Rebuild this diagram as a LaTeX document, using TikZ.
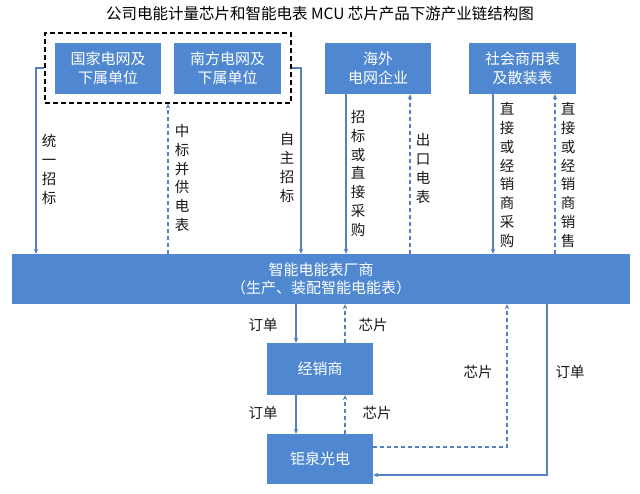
\documentclass[tikz,border=0pt]{standalone}
\usepackage{fontspec}
\setmainfont{Noto Sans CJK SC}
\usetikzlibrary{arrows.meta}
\definecolor{boxblue}{HTML}{4F88D0}
\definecolor{lineblue}{HTML}{5580C2}
\newcommand\myboxfont{\fontsize{15}{18.5}\selectfont}
\newcommand\mylabfont{\fontsize{14.5}{18.8}\selectfont}
\begin{document}
\begin{tikzpicture}[x=1pt,y=-1pt,
  box/.style={fill=boxblue, text=white, font=\myboxfont, align=center, inner sep=0pt},
  ln/.style={draw=lineblue, line width=1.2pt, -{Stealth[length=5pt,width=4.5pt]}},
  dl/.style={ln, dash pattern=on 4pt off 3pt},
  lab/.style={font=\mylabfont, align=center, inner sep=0pt, text=black!90}]
\useasboundingbox[fill=white] (0,0) rectangle (640,494);
\node[font=\fontsize{15.5}{18}\selectfont] (title) at (320,14) {公司电能计量芯片和智能电表 MCU 芯片产品下游产业链结构图};
% top boxes
\node[draw=black, line width=1.6pt, dash pattern=on 5pt off 3pt, minimum width=246pt, minimum height=70pt, inner sep=0pt] (dbox) at (168,68) {};
\node[box, minimum width=106pt, minimum height=51pt] (b1) at (108,68.5) {国家电网及\\下属单位};
\node[box, minimum width=107pt, minimum height=51pt] (b2) at (227.5,68.5) {南方电网及\\下属单位};
\node[box, minimum width=106pt, minimum height=51pt] (b3) at (378,68.5) {海外\\电网企业};
\node[box, minimum width=107pt, minimum height=51pt] (b4) at (522.5,68.5) {社会商用表\\及散装表};
% bar
\node[box, minimum width=618pt, minimum height=50pt] (bar) at (321,279) {智能电能表厂商\\（生产、装配智能电能表）};
% lower boxes
\node[box, minimum width=106pt, minimum height=52pt] (dist) at (320,369) {经销商};
\node[box, minimum width=106pt, minimum height=50pt] (jq) at (320,459) {钜泉光电};
% top connectors
\draw[ln] (dbox.west) -| (36,0 |- bar.north);
\draw[dl] (168,0 |- bar.north) -- (168,0 |- dbox.south);
\draw[ln] (dbox.east) -| (301,0 |- bar.north);
\draw[ln] (346,0 |- b3.south) -- (346,0 |- bar.north);
\draw[dl] (410,0 |- bar.north) -- (410,0 |- b3.south);
\draw[ln] (493,0 |- b4.south) -- (493,0 |- bar.north);
\draw[dl] (555,0 |- bar.north) -- (555,0 |- b4.south);
% lower connectors
\draw[ln] (296,0 |- bar.south) -- (296,0 |- dist.north);
\draw[dl] (345,0 |- dist.north) -- (345,0 |- bar.south);
\draw[ln] (296,0 |- dist.south) -- (296,0 |- jq.north);
\draw[dl] (345,0 |- jq.north) -- (345,0 |- dist.south);
\draw[dl] (jq.east |- 0,447) -| (507,0 |- bar.south);
\draw[ln] (547,0 |- bar.south) |- (jq.east |- 0,475);
% labels
\node[lab] (l1) at (49,169.5) {统\\一\\招\\标};
\node[lab] (l2) at (182,178) {中\\标\\并\\供\\电\\表};
\node[lab] (l3) at (287,167.5) {自\\主\\招\\标};
\node[lab] (l4) at (358,173.5) {招\\标\\或\\直\\接\\采\\购};
\node[lab] (l5) at (423,168.5) {出\\口\\电\\表};
\node[lab] (l6) at (507,175) {直\\接\\或\\经\\销\\商\\采\\购};
\node[lab] (l7) at (568,175) {直\\接\\或\\经\\销\\商\\销\\售};
\node[lab] (l8) at (263,325) {订单};
\node[lab] (l9) at (373,325) {芯片};
\node[lab] (l10) at (263,413) {订单};
\node[lab] (l11) at (377,413) {芯片};
\node[lab] (l12) at (478,372) {芯片};
\node[lab] (l13) at (570,372) {订单};
\end{tikzpicture}
\end{document}
